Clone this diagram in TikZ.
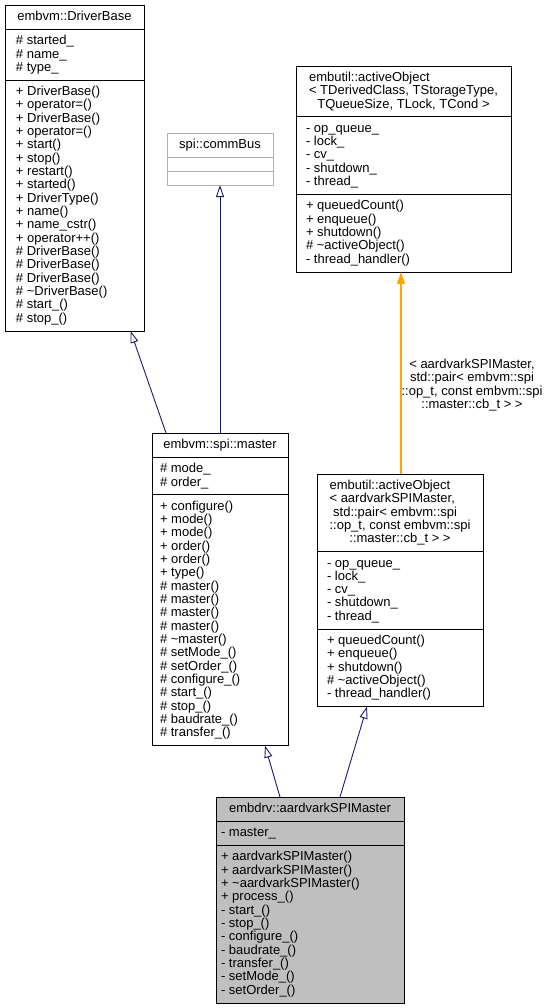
\documentclass[tikz,border=0pt]{standalone}
\usepackage{fontspec}
\setmainfont{Liberation Sans}
\usetikzlibrary{shapes.multipart,arrows.meta}
\definecolor{qqqqmb}{rgb}{0.098,0.098,0.439}
\definecolor{ffaaqq}{rgb}{1.,0.647,0.}
\definecolor{bfbfbf}{rgb}{0.749,0.749,0.749}
\definecolor{aaaaaa}{rgb}{0.7,0.7,0.7}
\newcommand{\cl}[1]{\begin{tabular}{@{}l@{}}#1\end{tabular}}
\newcommand{\cc}[1]{\begin{tabular}{@{}c@{}}#1\end{tabular}}
\newcommand{\tld}{\textasciitilde}
\newcommand{\dxfont}{\fontsize{13}{13.33}\selectfont\setbox\strutbox\hbox{\vrule height 10pt depth 3.33pt width 0pt}}
\tikzset{
  cls/.style={draw=black,line width=0.9pt,rectangle split,rectangle split parts=3,
    rectangle split part align={center,left,left},anchor=north west,
    inner ysep=5pt,outer sep=0pt,font=\dxfont},
  inh/.style={draw=qqqqmb,line width=0.9pt,->},
  lbl/.style={font=\dxfont,inner sep=0pt,text=black}
}

\begin{document}
\begin{tikzpicture}[x=1pt,y=-1pt,>={Triangle[open,length=12pt,width=8pt]}]
	\useasboundingbox (0,0) rectangle (552,1008);
	\node[cls,minimum width=139pt,inner xsep=11pt] (base) at (5,5) {\cc{embvm::DriverBase}
		\nodepart{second}\cl{\# started\_\\\# name\_\\\# type\_}
		\nodepart{third}\cl{+ DriverBase()\\+ operator=()\\+ DriverBase()\\+ operator=()\\+ start()\\+ stop()\\+ restart()\\+ started()\\+ DriverType()\\+ name()\\+ name\_cstr()\\+ operator++()\\\# DriverBase()\\\# DriverBase()\\\# DriverBase()\\\# \tld DriverBase()\\\# start\_()\\\# stop\_()}};
	\node[cls,draw=aaaaaa,minimum width=106pt] (bus) at (167,133) {\cc{spi::commBus}
		\nodepart{second}\cl{}
		\nodepart{third}\cl{}};
	\node[cls,minimum width=215pt,inner xsep=10pt] (tmpl) at (296,66) {\cl{embutil::activeObject\\< TDerivedClass, TStorageType,\\\multicolumn{1}{@{}c@{}}{TQueueSize, TLock, TCond >}}
		\nodepart{second}\cl{- op\_queue\_\\- lock\_\\- cv\_\\- shutdown\_\\- thread\_}
		\nodepart{third}\cl{+ queuedCount()\\+ enqueue()\\+ shutdown()\\\# \tld activeObject()\\- thread\_handler()}};
	\node[cls,minimum width=136pt,inner xsep=8pt] (master) at (152,433) {\cc{embvm::spi::master}
		\nodepart{second}\cl{\# mode\_\\\# order\_}
		\nodepart{third}\cl{+ configure()\\+ mode()\\+ mode()\\+ order()\\+ order()\\+ type()\\\# master()\\\# master()\\\# master()\\\# master()\\\# \tld master()\\\# setMode\_()\\\# setOrder\_()\\\# configure\_()\\\# start\_()\\\# stop\_()\\\# baudrate\_()\\\# transfer\_()}};
	\node[cls,minimum width=166pt,inner xsep=10pt] (inst) at (317,474) {\cl{embutil::activeObject\\< aardvarkSPIMaster,\\\ std::pair< embvm::spi\\::op\_t, const embvm::spi\\\multicolumn{1}{@{}c@{}}{::master::cb\_t > >}}
		\nodepart{second}\cl{- op\_queue\_\\- lock\_\\- cv\_\\- shutdown\_\\- thread\_}
		\nodepart{third}\cl{+ queuedCount()\\+ enqueue()\\+ shutdown()\\\# \tld activeObject()\\- thread\_handler()}};
	\node[cls,fill=bfbfbf,minimum width=188pt,inner xsep=5pt] (spim) at (216,797) {\cc{embdrv::aardvarkSPIMaster}
		\nodepart{second}\cl{- master\_}
		\nodepart{third}\cl{+ aardvarkSPIMaster()\\+ aardvarkSPIMaster()\\+ \tld aardvarkSPIMaster()\\+ process\_()\\- start\_()\\- stop\_()\\- configure\_()\\- baudrate\_()\\- transfer\_()\\- setMode\_()\\- setOrder\_()}};
	\draw[inh] ([xshift=-54pt]master.north) -- ([xshift=56pt]base.south);
	\draw[inh] (master.north) -- (bus.south);
	\draw[inh] ([xshift=-30pt]spim.north) -- ([xshift=45pt]master.south);
	\draw[inh] ([xshift=30pt]spim.north) -- ([xshift=-33pt]inst.south);
	\draw[color=ffaaqq,line width=1.1pt,-{Triangle[length=12pt,width=8pt]}] ([xshift=1pt]inst.north) -- ([xshift=1pt]inst.north |- tmpl.south)
		node[lbl,pos=0.44,anchor=west] (args) {\cc{< aardvarkSPIMaster,\\std::pair< embvm::spi\\::op\_t, const embvm::spi\\::master::cb\_t > >}};
\end{tikzpicture}
\end{document}
